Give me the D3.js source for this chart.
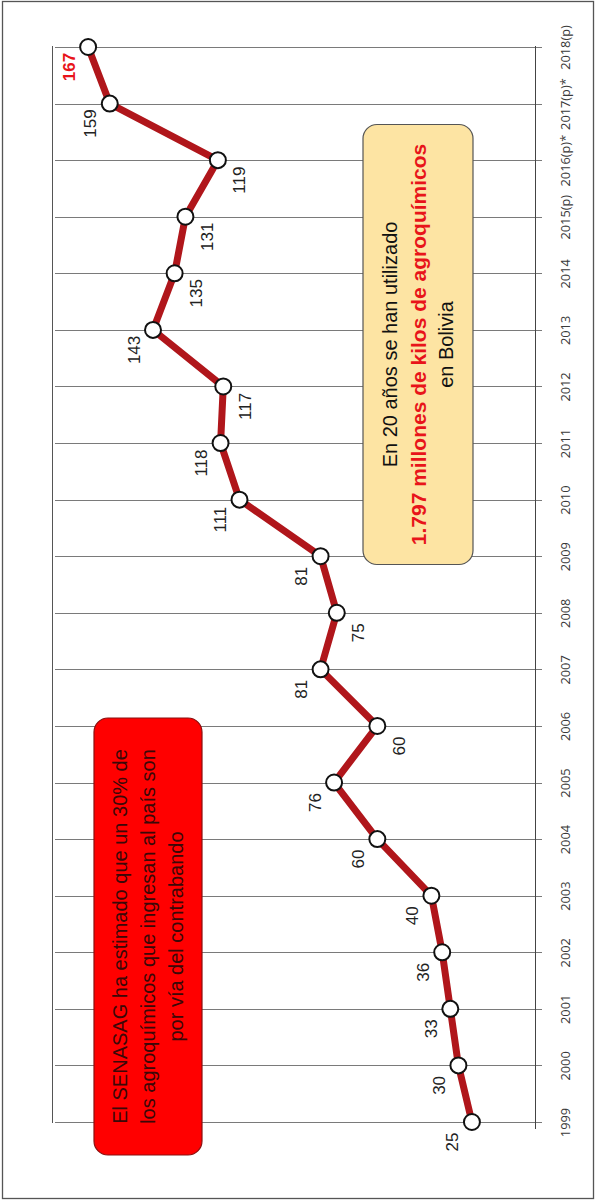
<!DOCTYPE html>
<html>
<head>
<meta charset="utf-8">
<script src="https://cdn.jsdelivr.net/npm/d3@7/dist/d3.min.js"></script>
<style>
  html, body { margin: 0; padding: 0; background: #fff; }
  svg { display: block; }
</style>
</head>
<body>
<svg id="chart" width="596" height="1201"></svg>
<script>
// Agrochemical use in Bolivia, millions of kilos per year
const years = ["1999","2000","2001","2002","2003","2004","2005","2006","2007","2008",
               "2009","2010","2011","2012","2013","2014","2015(p)","2016(p)*","2017(p)*","2018(p)"];
const values = [25, 30, 33, 36, 40, 60, 76, 60, 81, 75, 81, 111, 118, 117, 143, 135, 131, 119, 159, 167];
// which side of the point each value label sits on
const labelSide = ["L","L","L","L","L","L","L","R","L","R","L","L","L","R","L","R","R","R","L","L"];

const noteTotal = ["En 20 años se han utilizado", "1.797 millones de kilos de agroquímicos", "en Bolivia"];
const noteSmuggling = ["El SENASAG ha estimado que un 30% de", "los agroquímicos que ingresan al país son", "por vía del contrabando"];

const svg = d3.select("#chart");

// outer frame
svg.append("rect")
  .attr("x", 2.5).attr("y", 1.5).attr("width", 591).attr("height", 1197)
  .attr("fill", "#fff").attr("stroke", "#555").attr("stroke-width", 1.3);

// the chart is drawn rotated: years run bottom-to-top, values grow to the left
const y = d3.scalePoint().domain(years).range([1122, 47]);
const x = d3.scaleLinear().domain([0, 180]).range([539.5, 53]);

const grid = svg.append("g");
grid.selectAll("line.g")
  .data(years)
  .join("line")
  .attr("class", "g")
  .attr("x1", 55).attr("x2", 542)
  .attr("y1", d => Math.round(y(d)) + 0.5).attr("y2", d => Math.round(y(d)) + 0.5)
  .attr("stroke", "#7a7a7a").attr("stroke-width", 1);

// far edge of the plot
grid.append("line")
  .attr("x1", 52.5).attr("x2", 52.5).attr("y1", 46).attr("y2", 1123)
  .attr("stroke", "#555").attr("stroke-width", 1);

// category axis
const axis = d3.axisRight(y).tickSize(0).tickPadding(0);
const axisG = svg.append("g").attr("transform", "translate(535.5,0)").call(axis);
axisG.select(".domain").remove();
axisG.append("line")
  .attr("x1", 0).attr("x2", 0).attr("y1", 46).attr("y2", 1129)
  .attr("stroke", "#444").attr("stroke-width", 1);
axisG.selectAll(".tick text")
  .attr("x", 0).attr("dy", null)
  .attr("transform", "translate(29,0) rotate(-90)")
  .attr("text-anchor", "middle")
  .attr("dominant-baseline", "central")
  .attr("font-family", "'Open Sans', sans-serif")
  .attr("font-size", 12.8)
  .attr("fill", "#3a3a3a");

// notes
function note(cx, cy, w, h, fill, stroke, lines, styles) {
  const g = svg.append("g");
  g.append("rect")
    .attr("x", cx - w / 2).attr("y", cy - h / 2).attr("width", w).attr("height", h)
    .attr("rx", 14).attr("ry", 14)
    .attr("fill", fill).attr("stroke", stroke).attr("stroke-width", 1.2);
  const t = g.append("g").attr("transform", `translate(${cx},${cy}) rotate(-90)`);
  const gap = 28;
  lines.forEach((s, i) => {
    t.append("text")
      .attr("x", 0).attr("y", (i - (lines.length - 1) / 2) * gap)
      .attr("text-anchor", "middle").attr("dominant-baseline", "central")
      .attr("font-family", "'Liberation Sans', Arial, sans-serif")
      .attr("font-size", styles[i].size)
      .attr("font-weight", styles[i].weight)
      .attr("fill", styles[i].fill)
      .text(s);
  });
}

note(418, 344.5, 110, 440, "#fde4a3", "#555", noteTotal, [
  {size: 20, weight: "normal", fill: "#111"},
  {size: 21, weight: "bold", fill: "#e8141a"},
  {size: 20, weight: "normal", fill: "#111"}
]);

note(148, 936.5, 108, 437, "#ff0000", "#8a1010", noteSmuggling, [
  {size: 20, weight: "normal", fill: "#3a0808"},
  {size: 20, weight: "normal", fill: "#3a0808"},
  {size: 20, weight: "normal", fill: "#3a0808"}
]);

// series line
const pts = years.map((yr, i) => ({ yr, v: values[i], side: labelSide[i], i }));
svg.append("path")
  .datum(pts)
  .attr("d", d3.line().x(d => x(d.v)).y(d => y(d.yr)))
  .attr("fill", "none")
  .attr("stroke", "#b0161b")
  .attr("stroke-width", 7)
  .attr("stroke-linejoin", "round");

svg.selectAll("circle.pt")
  .data(pts)
  .join("circle")
  .attr("class", "pt")
  .attr("cx", d => x(d.v)).attr("cy", d => y(d.yr))
  .attr("r", 8)
  .attr("fill", "#fff").attr("stroke", "#111").attr("stroke-width", 2);

// value labels
const last = pts.length - 1;
svg.selectAll("text.val")
  .data(pts)
  .join("text")
  .attr("class", "val")
  .attr("transform", d => `translate(${x(d.v) + (d.side === "L" ? -19 : 22)},${y(d.yr) + 20}) rotate(-90)`)
  .attr("text-anchor", "middle").attr("dominant-baseline", "central")
  .attr("font-family", "'Liberation Sans', Arial, sans-serif")
  .attr("font-size", 17)
  .attr("font-weight", d => d.i === last ? "bold" : "normal")
  .attr("fill", d => d.i === last ? "#e8141a" : "#222")
  .text(d => d.v);
</script>
</body>
</html>
